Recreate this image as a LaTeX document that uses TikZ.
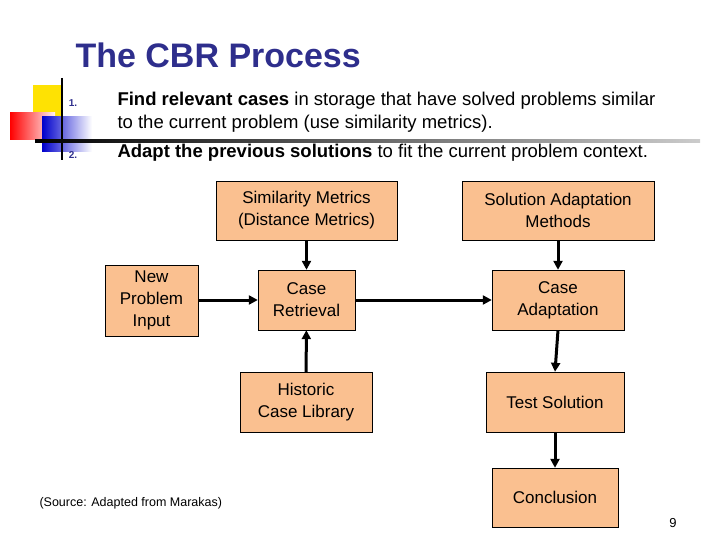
\documentclass[tikz,border=0pt]{standalone}
\usepackage{fontspec}
\setmainfont{Liberation Sans}
\usetikzlibrary{arrows.meta}
\definecolor{peach}{HTML}{FAC090}
\definecolor{navy}{HTML}{2E2E8C}
\begin{document}
\begin{tikzpicture}[x=1pt,y=-1pt,
  box/.style={draw=black,fill=peach,align=center,inner sep=0pt,font=\fontsize{17}{22}\selectfont},
  arr/.style={line width=3pt,-{Triangle[length=9pt,width=9pt]}}]
\useasboundingbox (0,0) rectangle (720,540);
% decoration
\fill[yellow!85!orange] (33,85) rectangle (62,117);
\shade[left color=red, right color=red!5] (10,113) rectangle (55,140);
\shade[left color=blue!80!black, right color=white] (42,117) rectangle (92,152);
\draw[line width=1.5pt] (62,78) -- (62,160);
\shade[left color=black, right color=gray!40] (35,140) rectangle (700,142.5);
\node[font=\bfseries\fontsize{34}{40}\selectfont,text=navy,anchor=west] (title) at (72,55) {The CBR Process};
\node[font=\bfseries\fontsize{10}{12}\selectfont,text=navy] (n1) at (73,103) {1.};
\node[font=\bfseries\fontsize{10}{12}\selectfont,text=navy] (n2) at (73,155) {2.};
\node[anchor=west,font=\fontsize{18.5}{23}\selectfont] (l1) at (114,101) {\textbf{Find relevant cases} in storage that have solved problems similar};
\node[anchor=west,font=\fontsize{18.5}{23}\selectfont] (l2) at (114,124) {to the current problem (use similarity metrics).};
\node[anchor=west,font=\fontsize{18.5}{23}\selectfont] (l3) at (114,153) {\textbf{Adapt the previous solutions} to fit the current problem context.};
% boxes
\node[box,minimum width=181pt,minimum height=59pt] (sim) at (306.5,210.5) {Similarity Metrics\\(Distance Metrics)};
\node[box,minimum width=192pt,minimum height=59pt] (sol) at (558,210.5) {Solution Adaptation\\Methods};
\node[box,minimum width=93pt,minimum height=71pt] (new) at (151.5,300.5) {New\\Problem\\Input};
\node[box,minimum width=97pt,minimum height=60pt] (ret) at (306.5,300) {Case\\Retrieval};
\node[box,minimum width=132pt,minimum height=60pt] (ada) at (558,300) {Case\\Adaptation};
\node[box,minimum width=132pt,minimum height=60pt] (his) at (306,402) {Historic\\Case Library};
\node[box,minimum width=138pt,minimum height=60pt] (test) at (555,402) {Test Solution};
\node[box,minimum width=126pt,minimum height=59pt] (con) at (555,497.5) {Conclusion};
\draw[arr] (sim) -- (ret);
\draw[arr] (sol) -- (ada);
\draw[arr] (new.east |- ret) -- (ret);
\draw[arr] (ret) -- (ada);
\draw[arr] (his) -- (ret);
\draw[arr] (ada.south) -- (test.north);
\draw[arr] (test) -- (con);
\node[anchor=west,font=\fontsize{12.5}{15}\selectfont] (src) at (36,503) {(Source: Adapted from Marakas)};
\node[font=\fontsize{13}{15}\selectfont] (pg) at (673,523) {9};
\end{tikzpicture}
\end{document}
